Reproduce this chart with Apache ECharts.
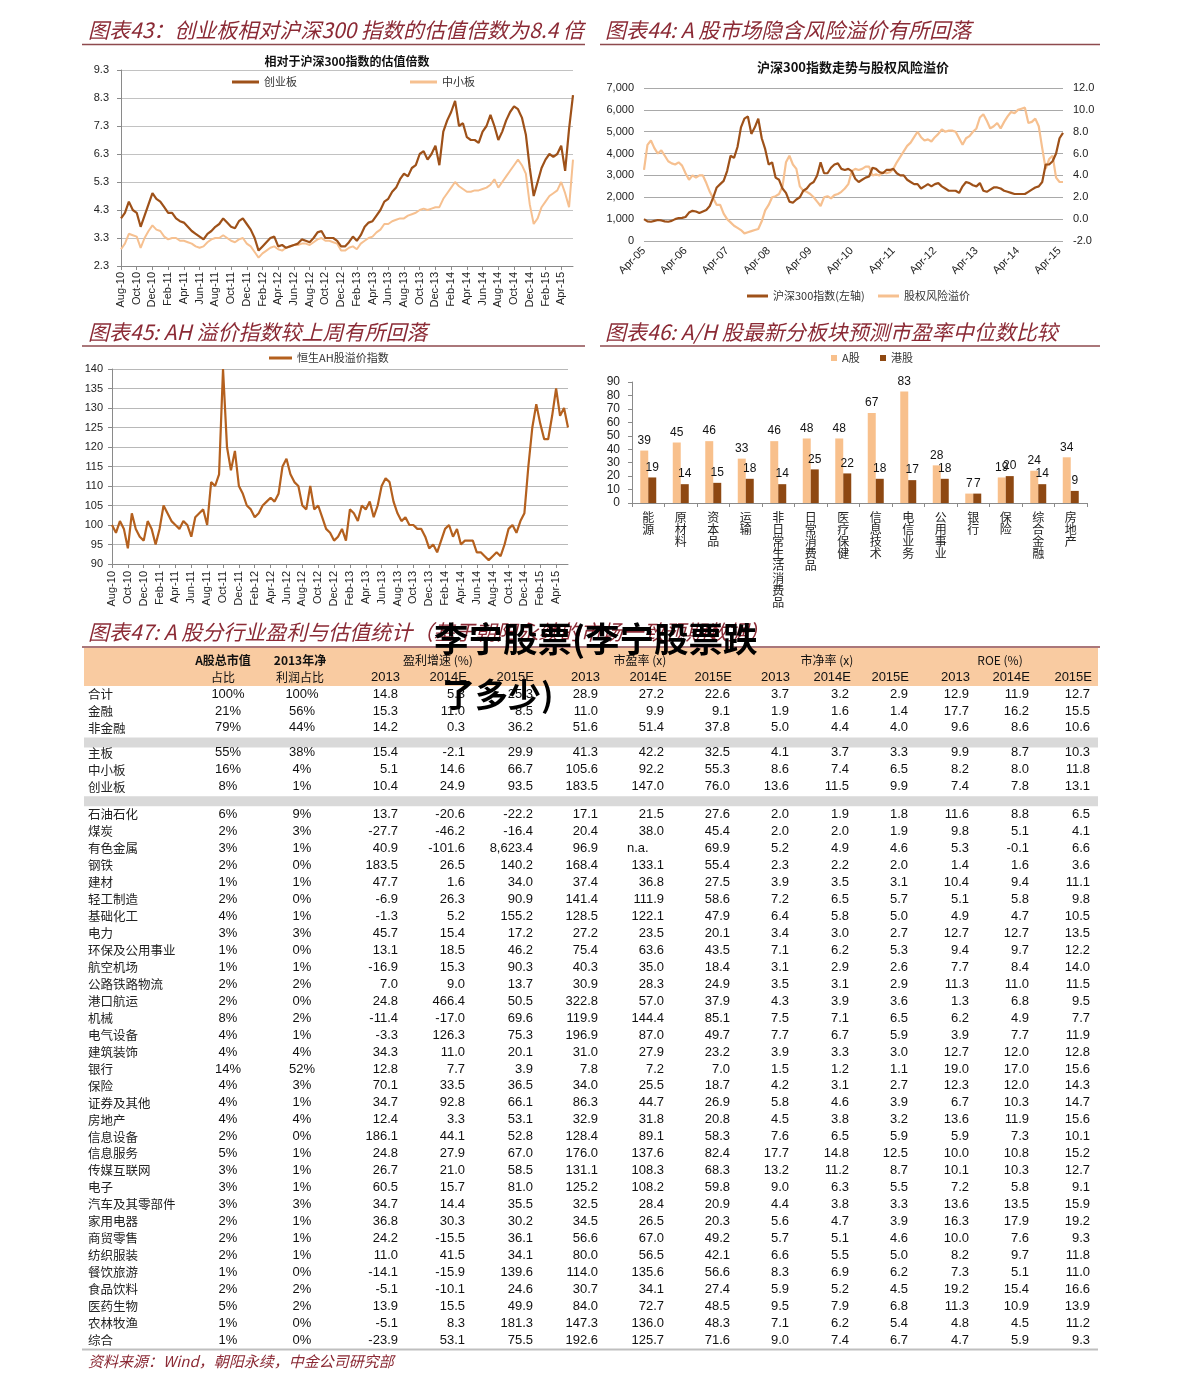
<!DOCTYPE html>
<html><head><meta charset="utf-8">
<script src="https://cdn.jsdelivr.net/npm/echarts@6/dist/echarts.min.js"></script>
<style>html,body{margin:0;padding:0;background:#fff}#c{width:1191px;height:1390px}</style>
</head><body><div id="c"></div>
<script>
// ---------------- DATA ----------------
// Chart 43: relative valuation multiples vs CSI300, half-month steps from Aug-10
const gemRel = [4.0,4.2,4.6,4.3,4.2,3.7,4.1,4.5,4.9,4.7,
 4.6,4.4,4.2,4.2,4.0,3.9,3.85,3.7,3.55,3.45,
 3.35,3.25,3.45,3.55,3.7,3.8,4.0,3.85,3.7,3.65,
 3.9,4.0,3.8,3.6,3.3,2.85,3.0,3.15,3.3,3.35,
 3.0,3.05,2.95,3.0,3.05,3.1,3.25,3.2,3.15,3.3,
 3.5,3.55,3.3,3.3,3.3,3.2,3.0,3.0,3.15,3.35,
 3.2,3.4,3.7,3.85,3.9,4.1,4.3,4.6,4.7,4.95,
 5.1,5.4,5.6,5.5,5.8,5.9,6.3,6.4,6.1,6.3,
 6.6,5.9,7.1,7.5,7.8,8.2,7.3,7.4,6.9,6.8,
 6.8,6.7,7.1,7.3,7.7,7.3,6.8,7.1,7.5,7.8,
 8.0,7.9,7.6,7.0,5.8,4.8,5.3,5.8,6.1,6.3,
 6.2,6.3,6.6,5.7,7.2,8.4];
const smeRel = [2.9,3.1,3.45,3.4,3.35,2.95,3.3,3.55,3.75,3.6,
 3.55,3.35,3.25,3.3,3.3,3.2,3.2,3.15,3.1,3.0,
 2.95,3.0,3.15,3.25,3.3,3.3,3.4,3.3,3.2,3.15,
 3.25,3.3,3.1,3.0,2.8,2.6,2.75,2.85,2.95,3.0,
 2.9,2.85,2.95,3.0,3.05,3.05,3.1,3.1,3.05,3.15,
 3.25,3.3,3.2,3.2,3.15,3.1,2.85,2.85,2.95,3.0,
 2.9,3.1,3.2,3.3,3.35,3.5,3.6,3.8,3.8,3.9,
 3.95,4.0,4.0,4.1,4.15,4.2,4.3,4.35,4.3,4.35,
 4.4,4.4,4.7,4.9,5.1,5.3,5.15,5.05,4.95,4.95,
 5.0,5.0,5.05,5.1,5.2,5.4,5.1,5.3,5.5,5.7,
 5.9,6.1,5.9,5.6,4.5,3.8,4.0,4.4,4.6,4.8,
 4.9,5.0,5.3,4.9,4.4,6.1];
const yTicks43 = [2.3, 9.3, 1];

// Chart 44: CSI300 index and equity risk premium, monthly from Apr-05
const hs300 = [1000,900,880,920,960,940,900,880,920,1000,
 1050,1060,1100,1300,1380,1350,1280,1350,1420,1600,
 2000,2450,2600,2750,3200,3900,3800,4300,5200,5600,
 5700,4900,5200,5600,4700,4200,3500,3600,2900,2800,
 2400,2200,1800,1750,1900,2000,2300,2400,2600,2700,
 3000,3600,3100,3100,3350,3500,3550,3300,3250,3300,
 3200,2850,2700,2800,2900,2950,3350,3300,3150,3100,
 3250,3250,3300,3100,3000,3000,2800,2700,2600,2600,
 2400,2500,2600,2500,2600,2650,2500,2400,2300,2300,
 2300,2200,2500,2700,2650,2550,2500,2650,2300,2250,
 2350,2450,2450,2400,2300,2250,2200,2150,2150,2150,
 2150,2250,2350,2450,2500,2700,3500,3500,3650,4000,
 4700,4950];
const erp = [4.5,6.8,7.2,6.5,6.0,6.3,5.8,5.3,5.1,5.0,
 5.2,4.9,4.2,3.6,4.0,3.8,4.0,4.0,3.3,2.5,
 1.9,1.3,1.3,0.5,0.0,-0.3,-0.6,-0.8,-1.0,-1.3,
 -1.2,-1.1,-1.0,-0.9,-0.2,0.8,1.3,2.0,2.1,2.3,
 3.0,5.2,5.8,5.0,4.6,3.0,2.6,2.5,2.3,2.0,
 1.6,1.2,2.0,2.1,1.9,2.2,2.3,2.5,2.8,3.2,
 4.4,4.6,4.5,4.6,4.8,4.8,4.0,4.1,4.0,4.3,
 4.2,4.3,4.6,5.2,5.7,6.2,6.7,7.0,7.5,8.0,
 7.5,7.2,7.3,7.1,7.5,7.8,8.2,8.0,8.1,8.1,
 8.0,7.4,6.8,7.4,7.6,8.0,8.3,9.3,9.6,9.0,
 8.3,8.5,8.8,8.3,8.9,9.4,9.8,9.7,10.0,10.1,
 10.2,8.8,8.9,9.2,8.5,6.5,4.6,5.5,5.8,3.8,
 3.4,3.4];

// Chart 45: Hang Seng AH premium index, half-month steps from Aug-10
const ahPremium = [100,98,101,99,94,103,99,97,96,101,
 99,95,99,105,103,101,100,99,101,100,
 97,102,103,104,100,111,110,113,140,120,
 114,119,110,108,105,104,102,103,105,106,
 107,106,108,115,117,113,111,110,105,104,
 110,104,105,102,99,98,96,97,99,96,
 104,103,101,105,104,106,102,105,110,112,
 111,106,103,101,102,100,100,99,99,97,
 94,95,93,96,99,100,97,99,95,96,
 96,96,93,93,92,91,92,93,92,95,
 99,100,98,101,103,115,125,131,126,122,
 122,128,135,128,130,125];

// Chart 46: A/H forward PE medians by sector
const sectors = ['能源','原材料','资本品','运输','非日常生活消费品','日常消费品','医疗保健','信息技术','电信业务','公用事业','银行','保险','综合金融','房地产'];
const peA = [39,45,46,33,46,48,48,67,83,28,7,19,24,34];
const peH = [19,14,15,18,14,25,22,18,17,18,7,20,14,9];

// Chart 47: table
const rowNames = ['合计','金融','非金融','主板','中小板','创业板',
 '石油石化','煤炭','有色金属','钢铁','建材','轻工制造','基础化工','电力','环保及公用事业','航空机场',
 '公路铁路物流','港口航运','机械','电气设备','建筑装饰','银行','保险','证券及其他','房地产','信息设备',
 '信息服务','传媒互联网','电子','汽车及其零部件','家用电器','商贸零售','纺织服装','餐饮旅游','食品饮料','医药生物',
 '农林牧渔','综合'];
const mktShare = [100,21,79,55,16,8,6,2,3,2,1,2,4,3,1,1,2,2,8,4,4,14,4,4,4,2,5,3,3,3,2,2,2,1,2,5,1,1];
const profitShare = [100,56,44,38,4,1,9,3,1,0,1,0,1,3,0,1,2,0,2,1,4,52,3,1,4,0,1,1,1,3,1,1,1,0,2,2,0,0];
const g13 = [14.8,15.3,14.2,15.4,5.1,10.4,13.7,-27.7,40.9,183.5,47.7,-6.9,-1.3,45.7,13.1,-16.9,7.0,24.8,-11.4,-3.3,34.3,12.8,70.1,34.7,12.4,186.1,24.8,26.7,60.5,34.7,36.8,24.2,11.0,-14.1,-5.1,13.9,-5.1,-23.9];
const g14 = [5.3,11.0,0.3,-2.1,14.6,24.9,-20.6,-46.2,-101.6,26.5,1.6,26.3,5.2,15.4,18.5,15.3,9.0,466.4,-17.0,126.3,11.0,7.7,33.5,92.8,3.3,44.1,27.9,21.0,15.7,14.4,30.3,-15.5,41.5,-15.9,-10.1,15.5,8.3,53.1];
const g15 = [25.3,8.5,36.2,29.9,66.7,93.5,-22.2,-16.4,8623.4,140.2,34.0,90.9,155.2,17.2,46.2,90.3,13.7,50.5,69.6,75.3,20.1,3.9,36.5,66.1,53.1,52.8,67.0,58.5,81.0,35.5,30.2,36.1,34.1,139.6,24.6,49.9,181.3,75.5];
const pe13 = [28.9,11.0,51.6,41.3,105.6,183.5,17.1,20.4,96.9,168.4,37.4,141.4,128.5,27.2,75.4,40.3,30.9,322.8,119.9,196.9,31.0,7.8,34.0,86.3,32.9,128.4,176.0,131.1,125.2,32.5,34.5,56.6,80.0,114.0,30.7,84.0,147.3,192.6];
const pe14 = [27.2,9.9,51.4,42.2,92.2,147.0,21.5,38.0,null,133.1,36.8,111.9,122.1,23.5,63.6,35.0,28.3,57.0,144.4,87.0,27.9,7.2,25.5,44.7,31.8,89.1,137.6,108.3,108.2,28.4,26.5,67.0,56.5,135.6,34.1,72.7,136.0,125.7];
const pe15 = [22.6,9.1,37.8,32.5,55.3,76.0,27.6,45.4,69.9,55.4,27.5,58.6,47.9,20.1,43.5,18.4,24.9,37.9,85.1,49.7,23.2,7.0,18.7,26.9,20.8,58.3,82.4,68.3,59.8,20.9,20.3,49.2,42.1,56.6,27.4,48.5,48.3,71.6];
const pb13 = [3.7,1.9,5.0,4.1,8.6,13.6,2.0,2.0,5.2,2.3,3.9,7.2,6.4,3.4,7.1,3.1,3.5,4.3,7.5,7.7,3.9,1.5,4.2,5.8,4.5,7.6,17.7,13.2,9.0,4.4,5.6,5.7,6.6,8.3,5.9,9.5,7.1,9.0];
const pb14 = [3.2,1.6,4.4,3.7,7.4,11.5,1.9,2.0,4.9,2.2,3.5,6.5,5.8,3.0,6.2,2.9,3.1,3.9,7.1,6.7,3.3,1.2,3.1,4.6,3.8,6.5,14.8,11.2,6.3,3.8,4.7,5.1,5.5,6.9,5.2,7.9,6.2,7.4];
const pb15 = [2.9,1.4,4.0,3.3,6.5,9.9,1.8,1.9,4.6,2.0,3.1,5.7,5.0,2.7,5.3,2.6,2.9,3.6,6.5,5.9,3.0,1.1,2.7,3.9,3.2,5.9,12.5,8.7,5.5,3.3,3.9,4.6,5.0,6.2,4.5,6.8,5.4,6.7];
const roe13 = [12.9,17.7,9.6,9.9,8.2,7.4,11.6,9.8,5.3,1.4,10.4,5.1,4.9,12.7,9.4,7.7,11.3,1.3,6.2,3.9,12.7,19.0,12.3,6.7,13.6,5.9,10.0,10.1,7.2,13.6,16.3,10.0,8.2,7.3,19.2,11.3,4.8,4.7];
const roe14 = [11.9,16.2,8.6,8.7,8.0,7.8,8.8,5.1,-0.1,1.6,9.4,5.8,4.7,12.7,9.7,8.4,11.0,6.8,4.9,7.7,12.0,17.0,12.0,10.3,11.9,7.3,10.8,10.3,5.8,13.5,17.9,7.6,9.7,5.1,15.4,10.9,4.5,5.9];
const roe15 = [12.7,15.5,10.6,10.3,11.8,13.1,6.5,4.1,6.6,3.6,11.1,9.8,10.5,13.5,12.2,14.0,11.5,9.5,7.7,11.9,12.8,15.6,14.3,14.7,15.6,10.1,15.2,12.7,9.1,15.9,19.2,9.3,11.8,11.0,16.6,13.9,11.2,9.3];
const headerTop = ['A股总市值','2013年净','盈利增速 (%)','市盈率 (x)','市净率 (x)','ROE (%)'];
const headerSub = ['占比','利润占比','2013','2014E','2015E','2013','2014E','2015E','2013','2014E','2015E','2013','2014E','2015E'];

// ---------------- HELPERS ----------------
const CJK = "'Noto Sans CJK SC', 'Noto Sans', sans-serif";
const NUM = "'Liberation Sans', Arial, sans-serif";
const RED = '#8B2A35';
const MONTHS = ['Jan','Feb','Mar','Apr','May','Jun','Jul','Aug','Sep','Oct','Nov','Dec'];
function monthName(y, m, off) {
  const t = y * 12 + m + off;
  return MONTHS[t % 12] + '-' + String(Math.floor(t / 12) % 100).padStart(2, '0');
}
const cat43 = gemRel.map((_, i) => monthName(2010, 7, Math.floor(i / 2)) + (i % 2 ? ' ' : ''));
const cat44 = hs300.map((_, i) => monthName(2005, 3, i));
const cat45 = ahPremium.map((_, i) => monthName(2010, 7, Math.floor(i / 2)) + (i % 2 ? ' ' : ''));
const fmt1 = v => v == null ? 'n.a.' : v.toLocaleString('en-US', {minimumFractionDigits: 1, maximumFractionDigits: 1});

const gfx = [];
function txt(x, y, text, o) {
  o = o || {};
  const align = o.align || 'left', va = o.va || 'middle';
  gfx.push({type: 'text', x: x, y: y, z: o.z || 10, silent: true,
    style: {text: text, fill: o.color || '#111', fontSize: o.size || 12, fontFamily: o.family || CJK,
      fontStyle: o.style || 'normal', fontWeight: o.weight || 'normal',
      align: align, verticalAlign: va, textAlign: align, textVerticalAlign: va}});
}
function hline(x1, x2, y, color, w, z) {
  gfx.push({type: 'line', z: z || 5, silent: true, shape: {x1: x1, y1: y, x2: x2, y2: y}, style: {stroke: color, lineWidth: w}});
}
function rect(x, y, w, h, color) {
  gfx.push({type: 'rect', z: 1, silent: true, shape: {x: x, y: y, width: w, height: h}, style: {fill: color}});
}

// titles and rules
const titleOpt = {size: 21, style: 'italic', color: RED};
txt(88, 30, '图表43：创业板相对沪深300 指数的估值倍数为8.4 倍', titleOpt);
txt(605, 30, '图表44: A 股市场隐含风险溢价有所回落', titleOpt);
txt(88, 332, '图表45: AH 溢价指数较上周有所回落', titleOpt);
txt(605, 332, '图表46: A/H 股最新分板块预测市盈率中位数比较', titleOpt);
txt(88, 632, '图表47: A 股分行业盈利与估值统计（基于朝阳永续的市场一致预期数据）', titleOpt);
const RULE = '#8E4A4E';
hline(82, 585, 44.5, RULE, 1.5);
hline(600, 1100, 44.5, RULE, 1.5);
hline(82, 585, 346, RULE, 1.5);
hline(600, 1100, 346, RULE, 1.5);
hline(82, 1100, 647, RULE, 1.5);
// inner chart titles
txt(347, 61, '相对于沪深300指数的估值倍数', {align: 'center', weight: 'bold', size: 12, color: '#111'});
txt(853, 67, '沪深300指数走势与股权风险溢价', {align: 'center', weight: 'bold', size: 13, color: '#111'});

// ---------------- TABLE ----------------
rect(84, 648, 1014, 38, '#F9CBA1');
const ROW_H = 16.95;
const rowY = [];
let yy = 694;
rowNames.forEach((_, i) => {
  if (i === 3) { rect(84, yy - ROW_H + 9.5, 1014, 10, '#D9D9D9'); yy += 8; }
  if (i === 6) { rect(84, yy - ROW_H + 9.5, 1014, 10, '#D9D9D9'); yy += 11; }
  rowY.push(yy);
  yy += ROW_H;
});
hline(82, 1098, 1349.5, '#BFBFBF', 2);
const topCenters = [223, 300, 438, 640, 827, 1000];
headerTop.forEach((t, i) => txt(topCenters[i], 660, t, {align: 'center', size: 12, weight: i < 2 ? 'bold' : 'normal', family: CJK}));
const subX = [223, 300, 400, 467, 534, 600, 667, 732, 790, 851, 909, 970, 1030, 1092];
headerSub.forEach((t, i) => {
  if (i < 2) txt(subX[i], 677, t, {align: 'center', size: 12});
  else txt(subX[i], 677, t, {align: 'right', size: 13, family: NUM});
});
const numCols = [g13, g14, g15, pe13, pe14, pe15, pb13, pb14, pb15, roe13, roe14, roe15];
const numRight = [398, 465, 533, 598, 664, 730, 789, 849, 908, 969, 1029, 1090];
rowNames.forEach((name, r) => {
  const y = rowY[r];
  txt(88, y, name, {size: 12.5, color: '#222'});
  txt(228, y, mktShare[r] + '%', {align: 'center', size: 13, family: NUM});
  txt(302, y, profitShare[r] + '%', {align: 'center', size: 13, family: NUM});
  numCols.forEach((col, c) => {
    const v = col[r];
    if (v == null) txt(627, y, 'n.a.', {size: 13, family: NUM});
    else txt(numRight[c], y, fmt1(v), {align: 'right', size: 13, family: NUM});
  });
});
txt(88, 1361, '资料来源：Wind，朝阳永续，中金公司研究部', {size: 15, style: 'italic', color: RED});

// watermark overlay
txt(434, 639, '李宁股票(李宁股票跌', {size: 34.5, weight: 'bold', color: '#000', z: 100});
txt(442, 694, '了多少)', {size: 33, weight: 'bold', color: '#000', z: 100});

// ---------------- CHART OPTION ----------------
const C_DARK = '#9E5119', C_LIGHT = '#F6C090', C_AH = '#B4601E', C_BAR_A = '#F8C08C', C_BAR_H = '#8E4812';
const axisLbl = {fontSize: 11, color: '#222', fontFamily: NUM};
const legendBase = {orient: 'horizontal', padding: 0, icon: 'rect', itemWidth: 27, itemHeight: 3,
  selectedMode: false, textStyle: {fontSize: 11, fontFamily: CJK, color: '#333', lineHeight: 14}};

const option = {
  backgroundColor: '#fff',
  animation: false,
  grid: [
    {left: 121, top: 70, width: 452, height: 196, outerBoundsMode: 'none'},
    {left: 644, top: 88, width: 419, height: 153, outerBoundsMode: 'none'},
    {left: 112, top: 369, width: 456, height: 195, outerBoundsMode: 'none'},
    {left: 632, top: 382, width: 455, height: 121, outerBoundsMode: 'none'}
  ],
  xAxis: [
    {gridIndex: 0, type: 'category', data: cat43, boundaryGap: false,
      axisLine: {lineStyle: {color: '#8a8a8a'}},
      axisTick: {show: true, interval: 3, length: 4, lineStyle: {color: '#8a8a8a'}},
      axisLabel: Object.assign({interval: 3, rotate: 90, margin: 6}, axisLbl),
      splitLine: {show: false}},
    {gridIndex: 1, type: 'category', data: cat44, boundaryGap: false,
      axisLine: {show: false}, axisTick: {show: false},
      axisLabel: Object.assign({interval: 11, rotate: 45, margin: 8}, axisLbl),
      splitLine: {show: false}},
    {gridIndex: 2, type: 'category', data: cat45, boundaryGap: false,
      axisLine: {lineStyle: {color: '#8a8a8a'}},
      axisTick: {show: true, interval: 3, length: 4, lineStyle: {color: '#8a8a8a'}},
      axisLabel: Object.assign({interval: 3, rotate: 90, margin: 7}, axisLbl),
      splitLine: {show: false}},
    {gridIndex: 3, type: 'category', data: sectors, boundaryGap: true,
      axisLine: {lineStyle: {color: '#8a8a8a'}},
      axisTick: {show: true, length: 4, lineStyle: {color: '#8a8a8a'}},
      axisLabel: {interval: 0, margin: 8, fontSize: 12, lineHeight: 12.2, fontFamily: CJK, color: '#222',
        formatter: v => v.split('').join('\n')},
      splitLine: {show: false}}
  ],
  yAxis: [
    {gridIndex: 0, type: 'value', min: yTicks43[0], max: yTicks43[1], interval: yTicks43[2],
      axisLine: {show: true, lineStyle: {color: '#8a8a8a'}},
      axisTick: {show: true, length: 4, lineStyle: {color: '#8a8a8a'}},
      axisLabel: Object.assign({margin: 12, formatter: v => v.toFixed(1)}, axisLbl),
      splitLine: {show: true, lineStyle: {color: '#C2C2C2', width: 1}}},
    {gridIndex: 1, type: 'value', min: 0, max: 7000, interval: 1000,
      axisLine: {show: false}, axisTick: {show: false},
      axisLabel: Object.assign({margin: 10, formatter: v => v.toLocaleString('en-US')}, axisLbl),
      splitLine: {show: true, lineStyle: {color: '#A9A9A9', width: 1}}},
    {gridIndex: 1, type: 'value', position: 'right', min: -2, max: 12, interval: 2,
      axisLine: {show: false}, axisTick: {show: false},
      axisLabel: Object.assign({margin: 10, formatter: v => v.toFixed(1)}, axisLbl),
      splitLine: {show: false}},
    {gridIndex: 2, type: 'value', min: 90, max: 140, interval: 5,
      axisLine: {show: true, lineStyle: {color: '#8a8a8a'}},
      axisTick: {show: true, length: 4, lineStyle: {color: '#8a8a8a'}},
      axisLabel: Object.assign({margin: 9}, axisLbl),
      splitLine: {show: true, lineStyle: {color: '#B8B8B8', width: 1}}},
    {gridIndex: 3, type: 'value', min: 0, max: 90, interval: 10,
      axisLine: {show: true, lineStyle: {color: '#8a8a8a'}},
      axisTick: {show: true, length: 4, lineStyle: {color: '#8a8a8a'}},
      axisLabel: Object.assign({margin: 12}, axisLbl, {fontSize: 12}),
      splitLine: {show: false}}
  ],
  legend: [
    Object.assign({}, legendBase, {data: ['创业板'], left: 232, top: 75}),
    Object.assign({}, legendBase, {data: ['中小板'], left: 410, top: 75}),
    Object.assign({}, legendBase, {data: ['沪深300指数(左轴)'], left: 747, top: 289, itemWidth: 21}),
    Object.assign({}, legendBase, {data: ['股权风险溢价'], left: 878, top: 289, itemWidth: 21}),
    Object.assign({}, legendBase, {data: ['恒生AH股溢价指数'], left: 269, top: 351, itemWidth: 23}),
    Object.assign({}, legendBase, {data: ['A股'], left: 831, top: 351, itemWidth: 6, itemHeight: 6}),
    Object.assign({}, legendBase, {data: ['港股'], left: 880, top: 351, itemWidth: 6, itemHeight: 6})
  ],
  series: [
    {name: '中小板', type: 'line', xAxisIndex: 0, yAxisIndex: 0, data: smeRel, symbol: 'none',
      lineStyle: {color: C_LIGHT, width: 2}, itemStyle: {color: C_LIGHT}},
    {name: '创业板', type: 'line', xAxisIndex: 0, yAxisIndex: 0, data: gemRel, symbol: 'none',
      lineStyle: {color: C_DARK, width: 2.2}, itemStyle: {color: C_DARK}},
    {name: '股权风险溢价', type: 'line', xAxisIndex: 1, yAxisIndex: 2, data: erp, symbol: 'none',
      lineStyle: {color: C_LIGHT, width: 2.2}, itemStyle: {color: C_LIGHT}},
    {name: '沪深300指数(左轴)', type: 'line', xAxisIndex: 1, yAxisIndex: 1, data: hs300, symbol: 'none',
      lineStyle: {color: C_DARK, width: 2.2}, itemStyle: {color: C_DARK}},
    {name: '恒生AH股溢价指数', type: 'line', xAxisIndex: 2, yAxisIndex: 3, data: ahPremium, symbol: 'none',
      lineStyle: {color: C_AH, width: 2.2}, itemStyle: {color: C_AH}},
    {name: 'A股', type: 'bar', xAxisIndex: 3, yAxisIndex: 4, data: peA, barWidth: 8, barGap: '0%',
      itemStyle: {color: C_BAR_A},
      label: {show: true, position: 'top', distance: 4, fontSize: 12, fontFamily: NUM, color: '#111'}},
    {name: '港股', type: 'bar', xAxisIndex: 3, yAxisIndex: 4, data: peH, barWidth: 8, barGap: '0%',
      itemStyle: {color: C_BAR_H},
      label: {show: true, position: 'top', distance: 4, fontSize: 12, fontFamily: NUM, color: '#111'}}
  ],
  graphic: {elements: gfx}
};
const chart = echarts.init(document.getElementById('c'), null, {renderer: 'canvas', width: 1191, height: 1390});
chart.setOption(option);
</script></body></html>
